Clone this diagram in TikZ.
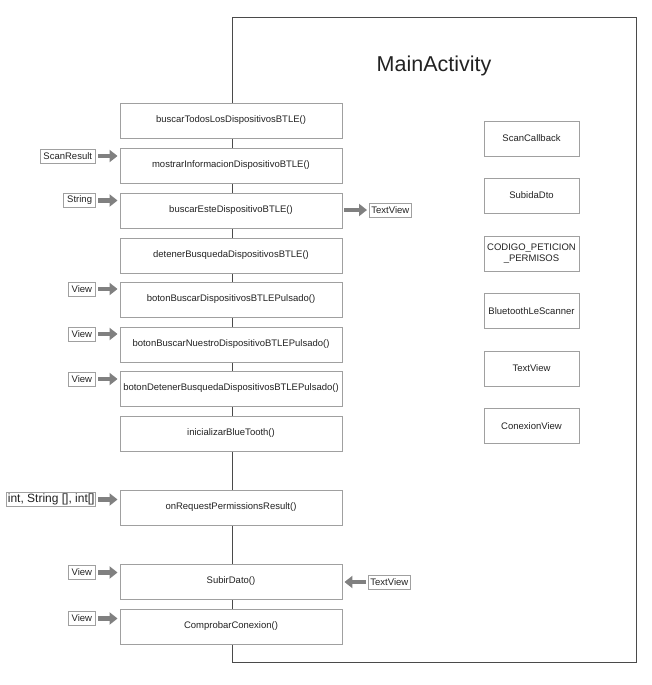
\documentclass[tikz,border=0pt]{standalone}
\usepackage{fontspec}
\setmainfont{Liberation Sans}
\usetikzlibrary{arrows.meta}
\definecolor{linec}{HTML}{4A4A4A}
\definecolor{boxc}{HTML}{A0A0A0}
\definecolor{arrc}{HTML}{808080}
\definecolor{txtc}{HTML}{222222}
\tikzset{
  mbox/.style={draw=boxc, fill=white, line width=0.9pt, minimum width=222pt, minimum height=35pt, inner sep=0pt, font=\fontsize{9.5}{11}\selectfont, text=txtc},
  rbox/.style={draw=boxc, fill=white, line width=0.9pt, minimum width=95pt, minimum height=35pt, inner sep=0pt, font=\fontsize{9.5}{11}\selectfont, text=txtc, align=center},
  lbl/.style={draw=boxc, fill=white, line width=0.9pt, minimum height=14pt, inner xsep=3.5pt, inner ysep=2pt, font=\fontsize{9.5}{11}\selectfont, text=txtc},
  bigarrow/.style={draw=arrc, line width=4.5pt, -{Triangle[length=8pt,width=12pt]}, shorten <=2pt, shorten >=2pt},
}
\begin{document}
\begin{tikzpicture}[x=1pt,y=-1pt]
\useasboundingbox (0,0) rectangle (652,685);
\node[draw=linec, line width=1pt, minimum width=404pt, minimum height=645pt, anchor=north west, inner sep=0pt] (main) at (232,17) {};
\node[font=\fontsize{21.5}{24}\selectfont, text=txtc] (title) at (434,66) {MainActivity};

\node[mbox] (m1) at (231,120.5) {buscarTodosLosDispositivosBTLE()};
\node[mbox] (m2) at (231,165.5) {mostrarInformacionDispositivoBTLE()};
\node[mbox] (m3) at (231,210.5) {buscarEsteDispositivoBTLE()};
\node[mbox] (m4) at (231,255.5) {detenerBusquedaDispositivosBTLE()};
\node[mbox] (m5) at (231,299.5) {botonBuscarDispositivosBTLEPulsado()};
\node[mbox] (m6) at (231,344.5) {botonBuscarNuestroDispositivoBTLEPulsado()};
\node[mbox] (m7) at (231,388.5) {botonDetenerBusquedaDispositivosBTLEPulsado()};
\node[mbox] (m8) at (231,433.5) {inicializarBlueTooth()};
\node[mbox] (m9) at (231,507.5) {onRequestPermissionsResult()};
\node[mbox] (m10) at (231,581.5) {SubirDato()};
\node[mbox] (m11) at (231,626.5) {ComprobarConexion()};

\node[rbox] (r1) at (531.5,138.5) {ScanCallback};
\node[rbox] (r2) at (531.5,195.5) {SubidaDto};
\node[rbox] (r3) at (531.5,253.5) {CODIGO\_PETICION\\\_PERMISOS};
\node[rbox] (r4) at (531.5,311) {BluetoothLeScanner};
\node[rbox] (r5) at (531.5,368.5) {TextView};
\node[rbox] (r6) at (531.5,426) {ConexionView};

\node[lbl, anchor=east] (l2) at (96,156) {ScanResult};
\node[lbl, anchor=east] (l3) at (96,200.5) {String};
\node[lbl, anchor=east] (l5) at (96,289) {View};
\node[lbl, anchor=east] (l6) at (96,334) {View};
\node[lbl, anchor=east] (l7) at (96,379) {View};
\node[lbl, anchor=east, font=\fontsize{12}{13}\selectfont, inner xsep=1pt, inner ysep=1pt] (l9) at (96,499.5) {int, String [], int[]};
\node[lbl, anchor=east] (l10) at (96,572.5) {View};
\node[lbl, anchor=east] (l11) at (96,618.5) {View};
\node[lbl, anchor=west, inner xsep=2pt] (o3) at (369,210) {TextView};
\node[lbl, anchor=west, inner xsep=2pt] (i10) at (368,582) {TextView};

\draw[bigarrow] (l2.east) -- (l2.east -| m2.west);
\draw[bigarrow] (l3.east) -- (l3.east -| m3.west);
\draw[bigarrow] (l5.east) -- (l5.east -| m5.west);
\draw[bigarrow] (l6.east) -- (l6.east -| m6.west);
\draw[bigarrow] (l7.east) -- (l7.east -| m7.west);
\draw[bigarrow] (l9.east) -- (l9.east -| m9.west);
\draw[bigarrow] (l10.east) -- (l10.east -| m10.west);
\draw[bigarrow] (l11.east) -- (l11.east -| m11.west);
\draw[bigarrow] (o3.west -| m3.east) -- (o3.west);
\draw[bigarrow] (i10.west) -- (i10.west -| m10.east);
\end{tikzpicture}
\end{document}
